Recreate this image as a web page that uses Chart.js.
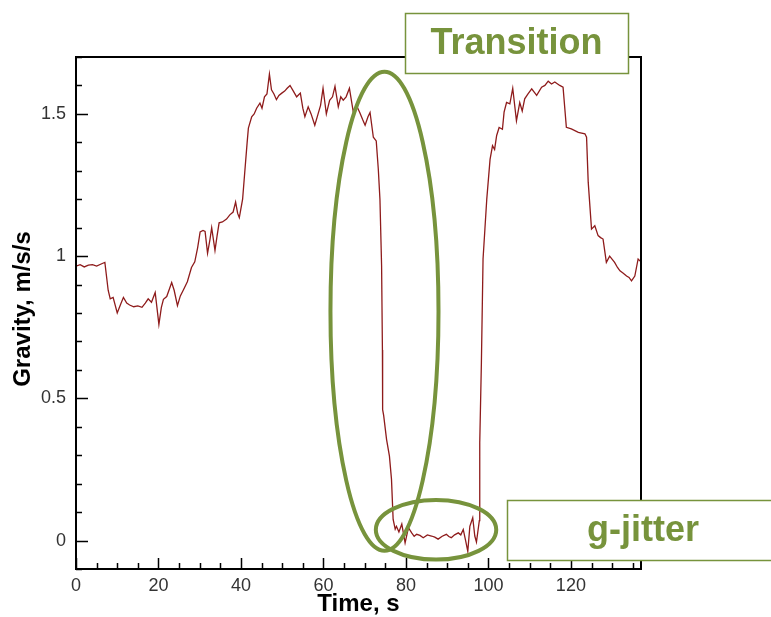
<!DOCTYPE html>
<html>
<head>
<meta charset="utf-8">
<script src="https://cdn.jsdelivr.net/npm/chart.js@4.4.1/dist/chart.umd.min.js"></script>
<style>
  html, body { margin: 0; padding: 0; background: #fff; }
  #gravityChart { display: block; }
</style>
</head>
<body>
<canvas id="gravityChart" width="771" height="617"></canvas>
<script>
// Gravity vs time
const timeValues = [
  0, 1, 2, 3, 4, 5, 6.5, 7, 7.8, 8.3, 9, 10, 10.8, 11.5, 12.3, 13, 14, 15, 16, 16.8,
  17.5, 18.3, 19.2, 20.1, 20.7, 21.2, 22, 23.2, 23.8, 24.6, 25.3, 26, 27, 28, 28.8, 29.5,
  30.1, 30.8, 31.3, 31.9, 32.5, 32.9, 33.7, 34.2, 34.7, 35.5, 36.5, 37.3, 38.1, 38.7, 39.2,
  39.6, 40.4, 41, 41.5, 41.8, 42.6, 43.2, 43.8, 44.6, 45.1, 45.7, 46.3, 46.9, 47.4, 48,
  48.6, 49.2, 49.9, 50.6, 51.2, 51.9, 52.7, 53.5, 54.4, 55, 55.5, 56.3, 57, 57.9, 58.7,
  59.3, 59.9, 60.7, 61.5, 62.2, 62.8, 63.6, 64.2, 64.8, 65.5, 66.3, 67.2, 68, 68.8, 69.5,
  70.1, 70.8, 71.3, 72.1, 72.8, 73.3, 73.7, 74.1, 74.3, 74.35, 74.6, 75.3, 76, 76.5, 76.9,
  77.4, 77.7, 78.3, 79, 79.8, 80.6, 81.4, 82, 82.6, 83.4, 84.2, 85.2, 86.2, 87, 87.8, 88.8,
  89.8, 90.4, 91, 91.8, 92.7, 93.3, 93.9, 94.5, 95, 95.5, 96.2, 96.7, 97.1, 97.8, 97.9,
  98.3, 98.7, 99.6, 100.4, 101, 101.5, 102, 102.6, 103.4, 103.8, 104.4, 105.2, 105.9,
  106.8, 107.6, 108.2, 108.8, 109.6, 110.5, 111.7, 112.9, 113.7, 114.5, 115.3, 116.1,
  117.3, 118.1, 118.9, 120.1, 121.8, 123.4, 123.8, 124.2, 125, 125.8, 126.6, 127.2, 127.8,
  128.6, 129.4, 130.6, 131.3, 131.9, 132.7, 133.5, 134.1, 134.7, 135.5, 136.3, 137
];
const gravityValues = [
  0.965, 0.97, 0.962, 0.968, 0.97, 0.965, 0.975, 0.978, 0.88, 0.85, 0.855, 0.80, 0.83, 0.855, 0.835, 0.828, 0.822, 0.825, 0.82, 0.835,
  0.85, 0.838, 0.872, 0.76, 0.82, 0.848, 0.858, 0.907, 0.88, 0.826, 0.86, 0.88, 0.91, 0.96, 0.98, 1.03,
  1.085, 1.09, 1.087, 1.01, 1.06, 1.10, 1.02, 1.07, 1.117, 1.12, 1.13, 1.145, 1.155, 1.19, 1.15,
  1.135, 1.20, 1.31, 1.40, 1.45, 1.49, 1.50, 1.52, 1.538, 1.52, 1.56, 1.57, 1.64, 1.585, 1.57,
  1.55, 1.565, 1.573, 1.58, 1.59, 1.60, 1.58, 1.56, 1.573, 1.52, 1.49, 1.525, 1.50, 1.46, 1.50,
  1.53, 1.59, 1.50, 1.548, 1.56, 1.597, 1.525, 1.56, 1.548, 1.56, 1.59, 1.51, 1.53, 1.505, 1.48,
  1.46, 1.49, 1.505, 1.418, 1.405, 1.306, 1.20, 0.966, 0.67, 0.46, 0.44, 0.356, 0.297, 0.215, 0.074,
  0.04, 0.05, 0.03, 0.058, -0.008, 0.045, 0.027, 0.015, 0.022, 0.018, 0.01, 0.02, 0.016, 0.012, 0.005, 0.015,
  0.022, 0.014, 0.01, 0.02, 0.027, 0.02, 0.039, -0.002, -0.038, 0.05, 0.08, 0.016, -0.005, 0.07, 0.344,
  0.626, 0.99, 1.20, 1.34, 1.388, 1.375, 1.424, 1.452, 1.446, 1.506, 1.54, 1.535, 1.59,
  1.476, 1.54, 1.51, 1.553, 1.57, 1.588, 1.565, 1.594, 1.60, 1.615, 1.605, 1.612,
  1.60, 1.594, 1.453, 1.447, 1.435, 1.43, 1.418, 1.26, 1.095, 1.107, 1.072, 1.065, 1.06,
  0.978, 1.0, 0.978, 0.96, 0.948, 0.94, 0.93, 0.925, 0.913, 0.93, 0.99, 0.98
];
const xTickValues = [0, 20, 40, 60, 80, 100, 120];
const yTickValues = [0, 0.5, 1, 1.5];
const xRange = [0, 137];
const yRange = [-0.1, 1.7];
const xMinorStep = 5;
const yMinorStep = 0.1;

const GREEN = '#77933c';
const FONT = "'Liberation Sans', Arial, sans-serif";

// callouts: ellipses in data units, boxes in pixels
const ellipses = [
  { x: 74.8, y: 0.806, rx: 13.1, ry: 0.842 },
  { x: 87.3, y: 0.038, rx: 14.6, ry: 0.105 }
];
const labelBoxes = [
  { text: 'Transition', left: 405, top: 13, right: 628, bottom: 73 },
  { text: 'g-jitter', left: 507, top: 500, right: 779, bottom: 560 }
];

const points = timeValues.map((t, i) => ({ x: t, y: gravityValues[i] }));

// frame, inward ticks, axis titles, callouts
const decorPlugin = {
  id: 'decor',
  afterDraw(chart) {
    const ctx = chart.ctx;
    const { left, right, top, bottom } = chart.chartArea;
    const xs = chart.scales.x;
    const ys = chart.scales.y;

    ctx.save();
    ctx.strokeStyle = '#000';
    ctx.lineWidth = 2;
    ctx.strokeRect(left, top, right - left, bottom - top);

    ctx.beginPath();
    for (let v = xRange[0]; v <= xRange[1] + 1e-9; v += xMinorStep) {
      const px = Math.round(xs.getPixelForValue(v)) + 0.5;
      const len = xTickValues.includes(v) ? 11 : 6;
      ctx.moveTo(px, bottom);
      ctx.lineTo(px, bottom - len);
    }
    for (let k = -1; k <= 17; k++) {
      const v = k * yMinorStep;
      const py = Math.round(ys.getPixelForValue(v)) + 0.5;
      const len = (k % 5 === 0) ? 12 : 6;
      ctx.moveTo(left, py);
      ctx.lineTo(left + len, py);
    }
    ctx.lineWidth = 1.5;
    ctx.stroke();

    // axis titles
    ctx.fillStyle = '#000';
    ctx.font = 'bold 24px ' + FONT;
    ctx.textAlign = 'center';
    ctx.textBaseline = 'middle';
    ctx.fillText('Time, s', (left + right) / 2, 604);
    ctx.save();
    ctx.translate(23, 309);
    ctx.rotate(-Math.PI / 2);
    ctx.fillText('Gravity, m/s/s', 0, 0);
    ctx.restore();

    // callout ellipses
    ctx.strokeStyle = GREEN;
    ctx.lineWidth = 4;
    ellipses.forEach(e => {
      const cx = xs.getPixelForValue(e.x);
      const cy = ys.getPixelForValue(e.y);
      const rx = Math.abs(xs.getPixelForValue(e.x + e.rx) - cx);
      const ry = Math.abs(ys.getPixelForValue(e.y + e.ry) - cy);
      ctx.beginPath();
      ctx.ellipse(cx, cy, rx, ry, 0, 0, Math.PI * 2);
      ctx.stroke();
    });

    // label boxes
    labelBoxes.forEach(b => {
      ctx.fillStyle = '#fff';
      ctx.fillRect(b.left, b.top, b.right - b.left, b.bottom - b.top);
      ctx.strokeStyle = GREEN;
      ctx.lineWidth = 1.5;
      ctx.strokeRect(b.left + 0.5, b.top + 0.5, b.right - b.left, b.bottom - b.top);
      ctx.fillStyle = GREEN;
      ctx.font = 'bold 36px ' + FONT;
      ctx.fillText(b.text, (b.left + b.right) / 2, (b.top + b.bottom) / 2 + 1);
    });
    ctx.restore();
  }
};

new Chart(document.getElementById('gravityChart'), {
  type: 'line',
  data: {
    datasets: [{
      data: points,
      borderColor: '#8e1b1b',
      borderWidth: 1.3,
      pointRadius: 0,
      tension: 0,
      fill: false
    }]
  },
  options: {
    responsive: false,
    animation: false,
    layout: { padding: { top: 57, right: 130, left: 0, bottom: 0 } },
    plugins: { legend: { display: false }, tooltip: { enabled: false } },
    scales: {
      x: {
        type: 'linear',
        min: xRange[0],
        max: xRange[1],
        grid: { display: false, drawTicks: false },
        border: { display: false },
        afterBuildTicks: s => { s.ticks = xTickValues.map(v => ({ value: v })); },
        afterFit: s => { s.height = 48; },
        ticks: {
          padding: 6,
          color: '#333',
          font: { family: FONT, size: 18 },
          maxRotation: 0,
          callback: v => String(v)
        }
      },
      y: {
        type: 'linear',
        min: yRange[0],
        max: yRange[1],
        grid: { display: false, drawTicks: false },
        border: { display: false },
        afterBuildTicks: s => { s.ticks = yTickValues.map(v => ({ value: v })); },
        afterFit: s => { s.width = 76; },
        ticks: {
          padding: 10,
          color: '#333',
          font: { family: FONT, size: 18 },
          callback: v => String(v)
        }
      }
    }
  },
  plugins: [decorPlugin]
});
</script>
</body>
</html>
